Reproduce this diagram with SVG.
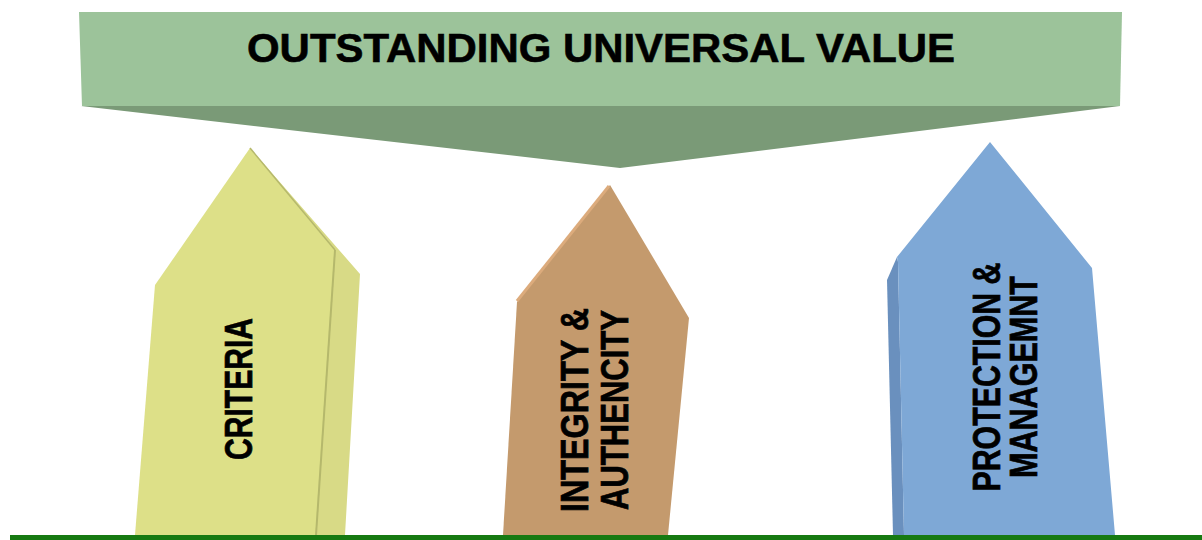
<svg xmlns="http://www.w3.org/2000/svg" width="1202" height="540" viewBox="0 0 1202 540">
<style>
.lbl{font-family:"Liberation Sans",Arial,sans-serif;font-weight:bold;fill:#000;}
.title{font-size:41px;stroke:#000;stroke-width:0.6px;}
.pl{font-size:39px;stroke:#000;stroke-width:0.7px;}
</style>
<rect x="0" y="0" width="1202" height="540" fill="#ffffff"/>
<g id="banner">
  <polygon points="81,106 1120,106 620,168" fill="#7a9a77"/>
  <polygon points="79,12 1122,12 1120,106 82,106" fill="#9cc39a"/>
  <text class="lbl title" x="601" y="62" text-anchor="middle" textLength="708" lengthAdjust="spacingAndGlyphs">OUTSTANDING UNIVERSAL VALUE</text>
</g>
<g id="criteria">
  <polygon points="250,148 360,274 345,535 316,535 335,250" fill="#d8da86"/>
  <polygon points="250,148 335,250 316,535 135,535 155,285" fill="#dde088"/>
  <line x1="250" y1="148" x2="335" y2="250" stroke="#b5b86c" stroke-width="1.5"/>
  <line x1="335" y1="250" x2="316" y2="535" stroke="#b5b86c" stroke-width="2"/>
  <text class="lbl pl" transform="translate(252,389) rotate(-90)" x="0" y="0" text-anchor="middle" textLength="142" lengthAdjust="spacingAndGlyphs">CRITERIA</text>
</g>
<g id="integrity">
  <polygon points="610,185 689,318 668,535 503,535 517,302" fill="#c49a6d"/>
  <line x1="517" y1="301" x2="609" y2="186" stroke="#dcab7c" stroke-width="3"/>
  <text class="lbl pl" transform="translate(588,410) rotate(-90)" x="0" y="0" text-anchor="middle" textLength="204" lengthAdjust="spacingAndGlyphs">INTEGRITY &amp;</text>
  <text class="lbl pl" transform="translate(628,410) rotate(-90)" x="0" y="0" text-anchor="middle" textLength="200" lengthAdjust="spacingAndGlyphs">AUTHENCITY</text>
</g>
<g id="protection">
  <polygon points="897,257 887,280 893,535 904,535 898,262" fill="#6a90be"/>
  <polygon points="990,142 1092,268 1115,535 904,535 898,262 897,257" fill="#7ea8d6"/>
  <text class="lbl pl" transform="translate(1000,377) rotate(-90)" x="0" y="0" text-anchor="middle" textLength="229" lengthAdjust="spacingAndGlyphs">PROTECTION &amp;</text>
  <text class="lbl pl" transform="translate(1037,377) rotate(-90)" x="0" y="0" text-anchor="middle" textLength="202" lengthAdjust="spacingAndGlyphs">MANAGEMNT</text>
</g>
<g id="ground">
  <rect x="10" y="535" width="1192" height="5" fill="#177a12"/>
</g>
</svg>
